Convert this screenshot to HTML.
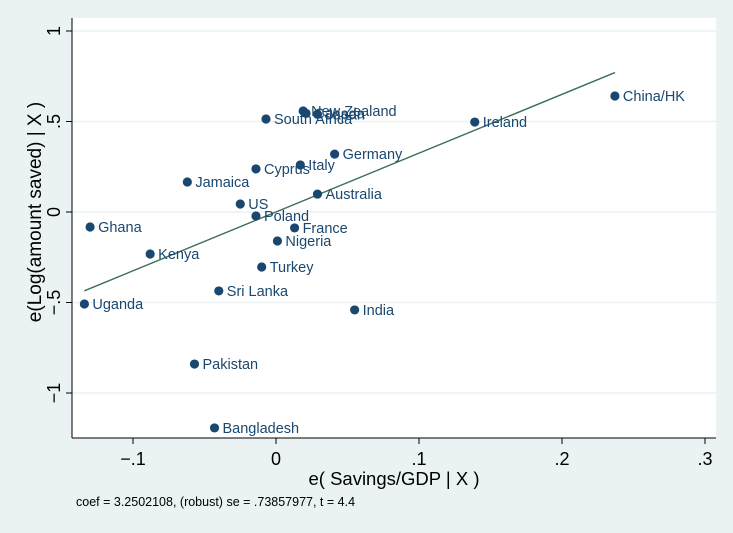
<!DOCTYPE html>
<html><head><meta charset="utf-8"><style>
body{margin:0;background:#eaf2f3;}
svg{display:block;font-family:"Liberation Sans",Arial,sans-serif;}
</style></head><body>
<svg id="chart" width="733" height="533">
<rect width="733" height="533" fill="#eaf2f3"/>
<rect x="72" y="18" width="644" height="420" fill="#fff"/>
<g id="grid"></g><g id="axes"></g><g id="marks"></g>
<text x="0" y="0" transform="translate(41 212) rotate(-90)" text-anchor="middle" font-size="19" fill="#000">e(Log(amount saved) | X )</text>
<text x="394" y="485" text-anchor="middle" font-size="18.5" fill="#000">e( Savings/GDP | X )</text>
<text x="76" y="506" font-size="12.5" fill="#000">coef = 3.2502108, (robust) se = .73857977, t = 4.4</text>
</svg>
<script>
const countries=["China/HK","Ireland","New Zealand","Japan","Canada","South Africa","Germany","Italy","Cyprus","Jamaica","Australia","US","Poland","France","Ghana","Nigeria","Kenya","Turkey","Sri Lanka","Uganda","India","Pakistan","Bangladesh"];
const xVals=[0.237,0.139,0.019,0.029,0.021,-0.007,0.041,0.017,-0.014,-0.062,0.029,-0.025,-0.014,0.013,-0.130,0.001,-0.088,-0.010,-0.040,-0.134,0.055,-0.057,-0.043];
const yVals=[0.641,0.497,0.558,0.540,0.545,0.514,0.320,0.260,0.238,0.166,0.099,0.044,-0.022,-0.088,-0.083,-0.160,-0.232,-0.304,-0.436,-0.508,-0.541,-0.840,-1.193];
const xTicks=[-0.1,0,0.1,0.2,0.3];
const xTickLabels=["\u2212.1","0",".1",".2",".3"];
const yTicks=[-1,-0.5,0,0.5,1];
const yTickLabels=["\u22121","\u2212.5","0",".5","1"];
const slope=3.2502108;
const intercept=0.0;
const fitRange=[-0.134,0.237];
const X=v=>276+v*1430, Y=v=>212-v*181;
const NS="http://www.w3.org/2000/svg";
function mk(t,a,p){const e=document.createElementNS(NS,t);for(const k in a)e.setAttribute(k,a[k]);p.appendChild(e);return e;}
const grid=document.getElementById('grid'),axes=document.getElementById('axes'),marks=document.getElementById('marks');
yTicks.forEach((t,i)=>{
 const g=mk('line',{x1:72,x2:716,y1:Y(t),y2:Y(t),stroke:'#eaf2f3','stroke-width':1.5},grid);
 
 
 const tk=mk('line',{x1:66,x2:72,y1:Y(t),y2:Y(t),stroke:'#000'},axes);
 
 
 const tx=mk('text',{x:0,y:0,'font-size':18,'text-anchor':'middle',transform:`translate(60 ${Y(t)}) rotate(-90)`},axes);
 tx.textContent=yTickLabels[i];
 
 
});
xTicks.forEach((t,i)=>{
 const tk=mk('line',{x1:X(t),x2:X(t),y1:438,y2:444,stroke:'#000'},axes);
 
 
 const tx=mk('text',{x:X(t),y:465,'font-size':18,'text-anchor':'middle'},axes);
 tx.textContent=xTickLabels[i];
 
 
});
const ya=mk('line',{x1:72,x2:72,y1:18,y2:438,stroke:'#000'},axes);


const xa=mk('line',{x1:72,x2:716,y1:438,y2:438,stroke:'#000'},axes);


const fl=mk('line',{x1:X(fitRange[0]),y1:Y(intercept+slope*fitRange[0]),x2:X(fitRange[1]),y2:Y(intercept+slope*fitRange[1]),stroke:'#3e6e5b','stroke-width':1.4},marks);


countries.forEach((c,i)=>{
 const d=mk('circle',{cx:X(xVals[i]),cy:Y(yVals[i]),r:4.6,fill:'#1a476f'},marks);
 
 
 const t=mk('text',{x:X(xVals[i])+8,y:Y(yVals[i])+5,'font-size':14.5,fill:'#1a476f'},marks);
 t.textContent=c;
 
 
});
</script>
</body></html>
